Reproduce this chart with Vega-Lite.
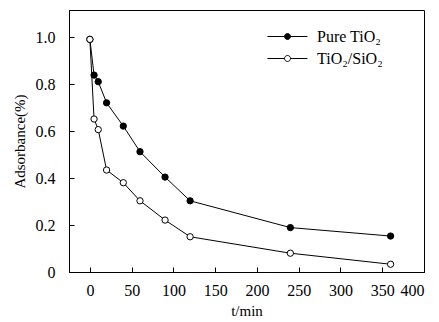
{
  "$schema": "https://vega.github.io/schema/vega-lite/v6.json",
  "width": 355,
  "height": 262,
  "autosize": {"type": "none"},
  "padding": {"left": 69, "top": 10, "right": 15, "bottom": 50},
  "background": "white",
  "config": {
    "font": "Liberation Serif",
    "view": {"stroke": "black", "strokeWidth": 1},
    "axis": {
      "domainColor": "black",
      "tickColor": "black",
      "labelColor": "black",
      "titleColor": "black",
      "labelFont": "Liberation Serif",
      "titleFont": "Liberation Serif",
      "labelFontSize": 16,
      "titleFontSize": 15,
      "titleFontWeight": "normal",
      "grid": false,
      "tickSize": -5
    }
  },
  "data": {
    "values": [
      {"t": 0, "a": 0.99, "s": "Pure TiO₂"},
      {"t": 5, "a": 0.838, "s": "Pure TiO₂"},
      {"t": 10, "a": 0.81, "s": "Pure TiO₂"},
      {"t": 20, "a": 0.72, "s": "Pure TiO₂"},
      {"t": 40, "a": 0.621, "s": "Pure TiO₂"},
      {"t": 60, "a": 0.512, "s": "Pure TiO₂"},
      {"t": 90, "a": 0.404, "s": "Pure TiO₂"},
      {"t": 120, "a": 0.303, "s": "Pure TiO₂"},
      {"t": 240, "a": 0.189, "s": "Pure TiO₂"},
      {"t": 360, "a": 0.153, "s": "Pure TiO₂"},
      {"t": 0, "a": 0.99, "s": "TiO₂/SiO₂"},
      {"t": 5, "a": 0.651, "s": "TiO₂/SiO₂"},
      {"t": 10, "a": 0.606, "s": "TiO₂/SiO₂"},
      {"t": 20, "a": 0.434, "s": "TiO₂/SiO₂"},
      {"t": 40, "a": 0.38, "s": "TiO₂/SiO₂"},
      {"t": 60, "a": 0.303, "s": "TiO₂/SiO₂"},
      {"t": 90, "a": 0.221, "s": "TiO₂/SiO₂"},
      {"t": 120, "a": 0.15, "s": "TiO₂/SiO₂"},
      {"t": 240, "a": 0.08, "s": "TiO₂/SiO₂"},
      {"t": 360, "a": 0.033, "s": "TiO₂/SiO₂"}
    ]
  },
  "encoding": {
    "x": {
      "field": "t", "type": "quantitative",
      "scale": {"domain": [-25, 400], "nice": false, "zero": false},
      "axis": {"values": [0, 50, 100, 150, 200, 250, 300, 350, 400], "title": "t/min", "labelPadding": 15, "titlePadding": 5}
    },
    "y": {
      "field": "a", "type": "quantitative",
      "scale": {"domain": [0, 1.115], "nice": false},
      "axis": {"values": [0, 0.2, 0.4, 0.6, 0.8, 1.0], "title": "Adsorbance(%)", "labelPadding": 19, "titlePadding": 8,
        "labelExpr": "datum.value == 0 ? '0' : format(datum.value, '.1f')"}
    }
  },
  "layer": [
    {
      "mark": {"type": "line", "color": "black", "strokeWidth": 1},
      "encoding": {"detail": {"field": "s"}}
    },
    {
      "mark": {"type": "point", "filled": false, "stroke": "black", "strokeWidth": 1, "size": 40, "opacity": 1},
      "encoding": {
        "fill": {
          "field": "s", "type": "nominal",
          "scale": {"domain": ["Pure TiO₂", "TiO₂/SiO₂"], "range": ["black", "white"]},
          "legend": {
            "title": null,
            "orient": "none",
            "legendX": 208,
            "legendY": 16,
            "symbolType": "M-2,0H-0.3M0.3,0H2M-0.3,0A0.3,0.3 0 1,1 0.3,0A0.3,0.3 0 1,1 -0.3,0Z",
            "symbolSize": 400,
            "symbolStrokeColor": "black",
            "symbolStrokeWidth": 1,
            "symbolOpacity": 1,
            "labelFont": "Liberation Serif",
            "labelFontSize": 16,
            "labelColor": "black",
            "rowPadding": 3,
            "labelOffset": 19
          }
        }
      }
    }
  ]
}
